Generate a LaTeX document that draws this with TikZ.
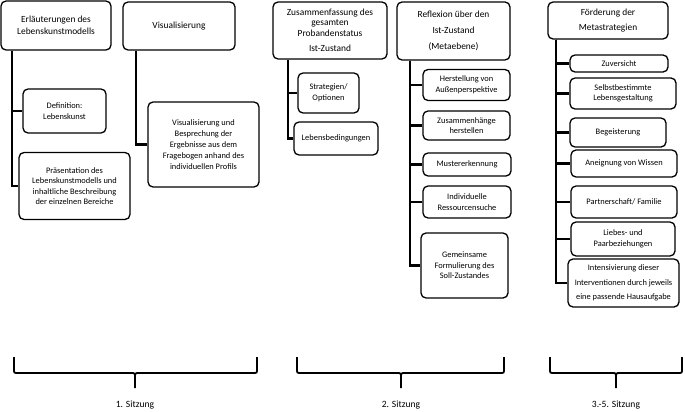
\documentclass[tikz,border=0pt]{standalone}
\usepackage{fontspec}
\setmainfont{Carlito}
\begin{document}
\begin{tikzpicture}[x=1pt,y=-1pt,
  box/.style={draw, line width=1.3pt, rounded corners=5pt, align=center, inner sep=1pt},
  head/.style={box, font=\fontsize{9.4}{12}\selectfont},
  sub/.style={box, font=\fontsize{8.4}{10.5}\selectfont},
  link/.style={line width=2.1pt},
  bracel/.style={line width=1.8pt},
  lab/.style={font=\fontsize{9.6}{11}\selectfont}]
\useasboundingbox (0,0) rectangle (685,412);

% Column 1
\node[head, minimum width=110, minimum height=49] (A) at (56,25.5) {Erläuterungen des\\Lebenskunstmodells};
\node[sub, minimum width=83, minimum height=44] (Def) at (64.5,111) {Definition:\\Lebenskunst};
\node[sub, minimum width=111, minimum height=67] (Pres) at (74.5,186) {Präsentation des\\Lebenskunstmodells und\\inhaltliche Beschreibung\\der einzelnen Bereiche};
\coordinate (a1) at ([xshift=12pt]A.south west);
\draw[link] (a1) |- (Def.west);
\draw[link] (a1) |- (Pres.west);

\node[head, minimum width=112, minimum height=48] (B) at (179,26) {Visualisierung};
\node[sub, minimum width=111, minimum height=85, font=\fontsize{8.4}{11}\selectfont] (Vis) at (203.5,144.5) {Visualisierung und\\Besprechung der\\Ergebnisse aus dem\\Fragebogen anhand des\\individuellen Profils};
\coordinate (b1) at ([xshift=14pt]B.south west);
\draw[link] (b1) |- (Vis.west);

% Column 2
\node[head, minimum width=114, minimum height=57, font=\fontsize{9.4}{10.5}\selectfont] (C) at (330,30.5) {Zusammenfassung des\\gesamten\\Probandenstatus\\[5pt]Ist-Zustand};
\node[sub, minimum width=61, minimum height=40] (Str) at (328.5,93) {Strategien/\\Optionen};
\node[sub, minimum width=84, minimum height=33] (Leb) at (336,138.5) {Lebensbedingungen};
\coordinate (c1) at ([xshift=16pt]C.south west);
\draw[link] (c1) |- (Str.west);
\draw[link] (c1) |- (Leb.west);

\node[head, minimum width=113, minimum height=58, font=\fontsize{9.4}{16}\selectfont] (D) at (453.5,31) {Reflexion über den\\Ist-Zustand\\(Metaebene)};
\node[sub, minimum width=87, minimum height=31] (D1) at (466.5,85) {Herstellung von\\Außenperspektive};
\node[sub, minimum width=87, minimum height=29] (D2) at (466.5,125.5) {Zusammenhänge\\herstellen};
\node[sub, minimum width=88, minimum height=23] (D3) at (467,164.5) {Mustererkennung};
\node[sub, minimum width=88, minimum height=32] (D4) at (467,202) {Individuelle\\Ressourcensuche};
\node[sub, minimum width=87, minimum height=65] (D5) at (464.5,265.5) {Gemeinsame\\Formulierung des\\Soll-Zustandes};
\coordinate (d1) at ([xshift=14pt]D.south west);
\foreach \n in {D1,D2,D3,D4,D5} \draw[link] (d1) |- (\n.west);

% Column 3
\node[head, minimum width=120, minimum height=37, font=\fontsize{9.4}{15}\selectfont] (E) at (608,20.5) {Förderung der\\Metastrategien};
\node[sub, minimum width=98, minimum height=17] (E1) at (619,63.5) {Zuversicht};
\node[sub, minimum width=106, minimum height=31] (E2) at (623,93.5) {Selbstbestimmte\\Lebensgestaltung};
\node[sub, minimum width=96, minimum height=29] (E3) at (618,132.5) {Begeisterung};
\node[sub, minimum width=106, minimum height=27] (E4) at (624,163.5) {Aneignung von Wissen};
\node[sub, minimum width=106, minimum height=32] (E5) at (624,202) {Partnerschaft/ Familie};
\node[sub, minimum width=104, minimum height=34] (E6) at (623,239) {Liebes- und\\Paarbeziehungen};
\node[sub, minimum width=111, minimum height=48, font=\fontsize{8.4}{14.5}\selectfont] (E7) at (623.5,283) {Intensivierung dieser\\Interventionen durch jeweils\\eine passende Hausaufgabe};
\coordinate (e1) at ([xshift=9pt]E.south west);
\foreach \n in {E1,E2,E3,E4,E5,E6,E7} \draw[link] (e1) |- (\n.west);

% Braces
\foreach \xa/\xt/\xb in {14/135/257, 297/401/504, 550/616/682}{
  \draw[bracel] (\xa,357) -- (\xa,369) .. controls (\xa,373) .. (\xa+4,373) -- (\xt-4,373) .. controls (\xt,373) .. (\xt,378) -- (\xt,388);
  \draw[bracel] (\xt,378) .. controls (\xt,373) .. (\xt+4,373) -- (\xb-4,373) .. controls (\xb,373) .. (\xb,369) -- (\xb,357);
}
\node[lab] (s1) at (135,405) {1. Sitzung};
\node[lab] (s2) at (401,405) {2. Sitzung};
\node[lab] (s3) at (616,405) {3.-5. Sitzung};
\end{tikzpicture}
\end{document}
